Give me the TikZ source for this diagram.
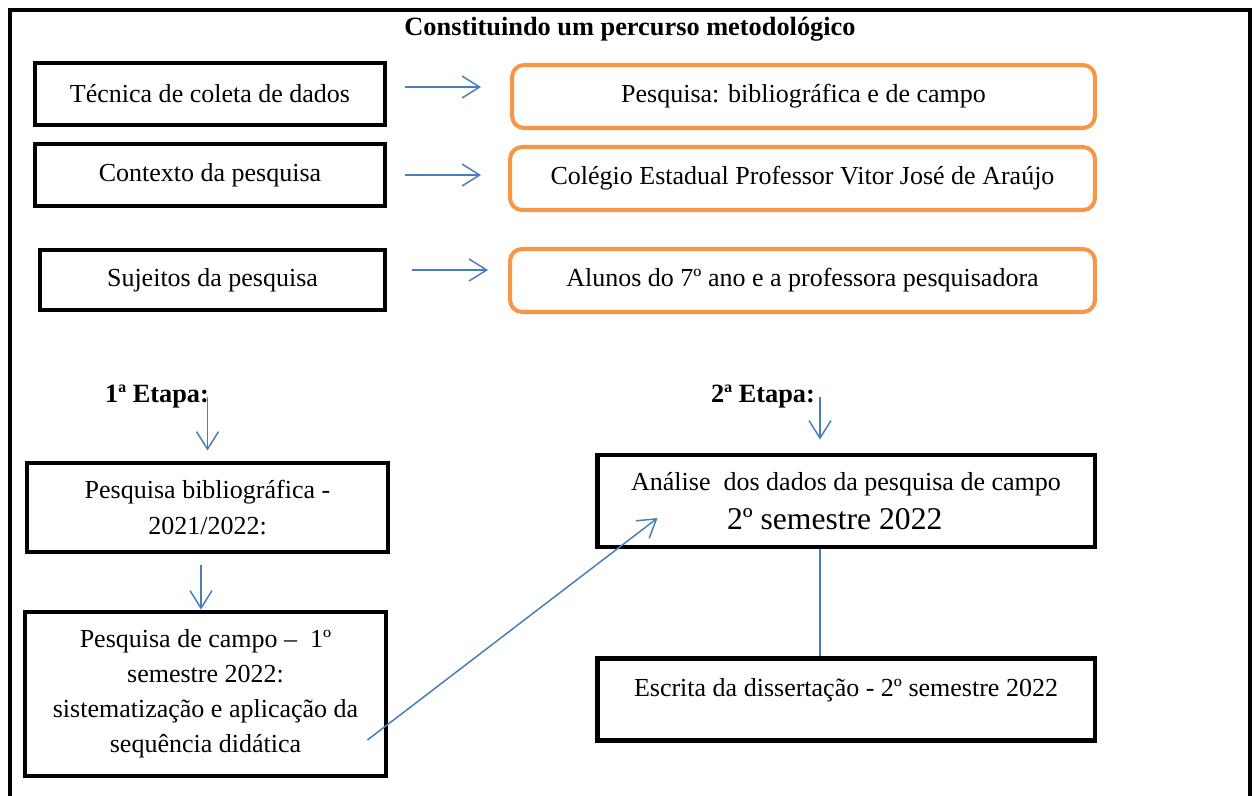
\documentclass[tikz,border=0pt]{standalone}
\usepackage{fontspec}
\setmainfont{Liberation Serif}
\usetikzlibrary{arrows.meta,positioning}
\definecolor{boxorange}{HTML}{F79646}
\definecolor{linkblue}{HTML}{4A7EBB}

\begin{document}
\begin{tikzpicture}[x=0.02cm,y=-0.02cm,>={Straight Barb[length=10pt,width=12.5pt]},
    font=\fontsize{14.8}{20}\selectfont,
    blk/.style={draw,line width=2.8pt,align=center,inner sep=0pt},
    org/.style={draw=boxorange,line width=2.3pt,rounded corners=0.24cm,inner sep=0pt},
    lnk/.style={draw=linkblue,line width=0.85pt},
    hd/.style={font=\fontsize{15}{20}\selectfont\bfseries}]
    \clip (0,0) rectangle (1256,795);
    \draw[line width=2.6pt] (10,830) -- (10,10) -- (1250,10) -- (1250,830);
    \node[hd] (ttl) at (630,29) {Constituindo um percurso metodológico};

    \node[blk,minimum width=7cm,minimum height=1.24cm] (t1) at (210,94) {Técnica de coleta de dados};
    \node[blk,minimum width=7cm,minimum height=1.24cm] (t2) at (210,175) {Contexto da pesquisa};
    \node[blk,minimum width=6.9cm,minimum height=1.2cm] (t3) at (212.5,280) {Sujeitos da pesquisa};
    \node[org,minimum width=11.66cm,minimum height=1.26cm] (o1) at (803.5,96.5) {Pesquisa: bibliográfica e de campo};
    \node[org,minimum width=11.7cm,minimum height=1.26cm] (o2) at (802.5,178.5) {Colégio Estadual Professor Vitor José de Araújo};
    \node[org,minimum width=11.7cm,minimum height=1.26cm] (o3) at (802.5,280.5) {Alunos do 7º ano e a professora pesquisadora};
    \draw[lnk,->,shorten <=0.36cm,shorten >=0.58cm] ([yshift=0.14cm]t1.east) -- ([yshift=0.14cm]t1.east -| o1.west);
    \draw[lnk,->,shorten <=0.36cm,shorten >=0.54cm] (t2.east) -- (t2.east -| o2.west);
    \draw[lnk,->,shorten <=0.5cm,shorten >=0.4cm] ([yshift=0.2cm]t3.east) -- ([yshift=0.2cm]t3.east -| o3.west);

    \node[hd] (e1) at (157,397) {1ª Etapa:};
    \node[hd] (e2) at (763,397) {2ª Etapa:};
    \node[blk,minimum width=7.22cm,minimum height=1.78cm] (b1) at (207.5,507.5) {Pesquisa bibliográfica -\\2021/2022:};
    \node[blk,minimum width=7.22cm,minimum height=3.28cm] (b2) at (205.5,694) {Pesquisa de campo –~ 1º\\semestre 2022:\\sistematização e aplicação da\\sequência didática};
    \node[blk,minimum width=9.96cm,minimum height=1.84cm] (b3) at (846,501) {Análise~ dos dados da pesquisa de campo\\[2pt]{\fontsize{18}{22}\selectfont 2º semestre 2022\hspace*{0.45cm}}};
    \node[blk,anchor=north,minimum width=9.96cm,text height=0.76cm,text depth=0.88cm] (b4) at (846,656) {Escrita da dissertação - 2º semestre 2022};
    \coordinate (c2) at ([xshift=-0.52cm]b3.north);
    \coordinate (d1) at ([xshift=-0.42cm,yshift=-0.92cm]b2.east);
    \coordinate (d2) at ([xshift=1.26cm,yshift=-0.34cm]b3.west);
    \draw[lnk,->,shorten >=0.2cm] (b1.north |- e1) -- (b1.north);
    \draw[lnk,->,shorten <=0.22cm] ([xshift=-0.13cm]b1.south) -- ([xshift=-0.13cm]b1.south |- b2.north);
    \draw[lnk,->,shorten >=0.26cm] (c2 |- e2) -- (c2);
    \draw[lnk] (c2 |- b3.south) -- (c2 |- b4.north);
    \draw[lnk,->] (d1) -- (d2);
\end{tikzpicture}
\end{document}
